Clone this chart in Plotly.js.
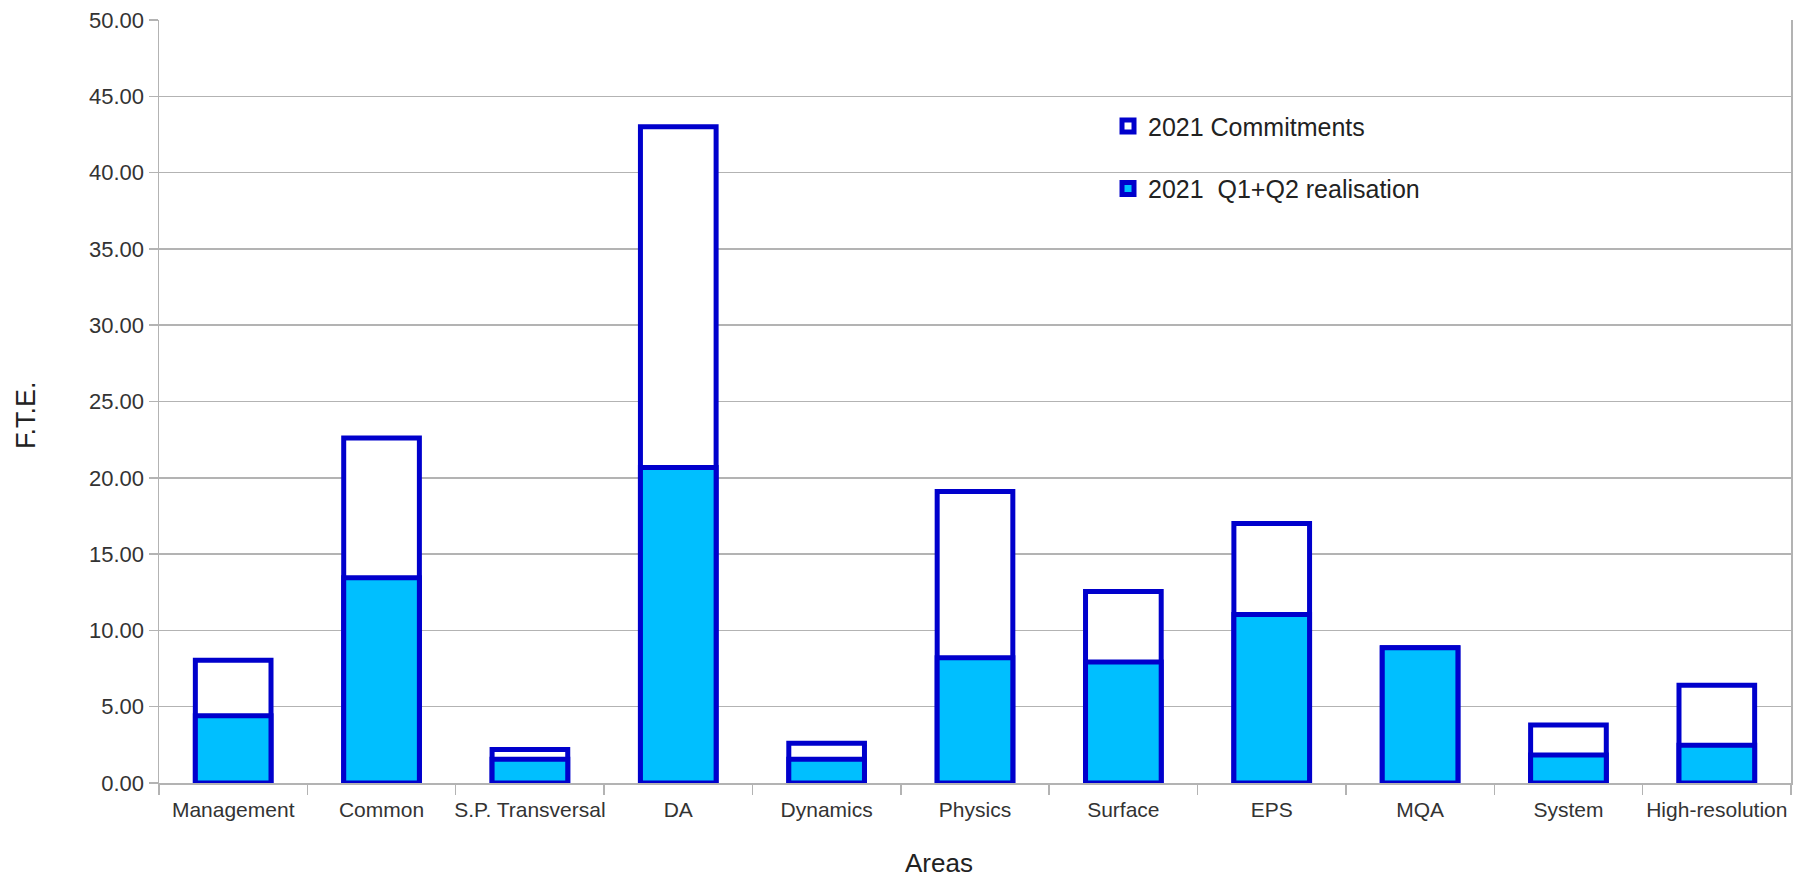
<!DOCTYPE html>
<html>
<head>
<meta charset="utf-8">
<script src="https://cdn.plot.ly/plotly-3.0.1.min.js"></script>
<style>
html,body{margin:0;padding:0;background:#fff;}
#chart{width:1801px;height:881px;}
</style>
</head>
<body>
<div id="chart"></div>
<script>
var categories = ["Management", "Common", "S.P. Transversal", "DA", "Dynamics", "Physics", "Surface", "EPS", "MQA", "System", "High-resolution"];
var commitments = [8.05, 22.6, 2.2, 43.0, 2.6, 19.1, 12.55, 17.0, 8.87, 3.8, 6.4];
var realisation = [4.4, 13.45, 1.55, 20.67, 1.55, 8.2, 7.93, 11.05, 8.87, 1.84, 2.47];
var seriesNames = ["2021 Commitments", "2021  Q1+Q2 realisation"];
var yTicks = [0, 5, 10, 15, 20, 25, 30, 35, 40, 45, 50];

var FONT = "Liberation Sans, Arial, sans-serif";
var LINE = "#0000cc";

var traces = [
  {
    type: "bar",
    name: seriesNames[0],
    x: categories,
    y: commitments,
    legendgroup: "a",
    marker: {color: "#ffffff", line: {color: LINE, width: 5}},
    hoverinfo: "x+y+name"
  },
  {
    type: "bar",
    name: seriesNames[1],
    x: categories,
    y: realisation,
    legendgroup: "b",
    marker: {color: "#00bfff", line: {color: LINE, width: 5}},
    hoverinfo: "x+y+name"
  }
];

var layout = {
  width: 1801,
  height: 881,
  margin: {l: 159, r: 10, t: 20, b: 98},
  paper_bgcolor: "#ffffff",
  plot_bgcolor: "#ffffff",
  barmode: "overlay",
  bargap: 0.49,
  font: {family: FONT, color: "#333333", size: 22},
  showlegend: true,
  legend: {
    x: 0.5815, xanchor: "left",
    y: 0.891, yanchor: "top",
    bgcolor: "rgba(0,0,0,0)",
    font: {family: FONT, size: 25, color: "#222222"},
    traceorder: "grouped",
    tracegroupgap: 27,
    itemwidth: 30
  },
  xaxis: {
    type: "category",
    tickson: "boundaries",
    tickangle: 0,
    ticks: "outside",
    ticklen: 10,
    tickwidth: 1.5,
    tickcolor: "#b3b3b3",
    ticklabelstandoff: 7,
    showline: true,
    linecolor: "#b3b3b3",
    linewidth: 1.5,
    showgrid: false,
    zeroline: false,
    tickfont: {family: FONT, size: 21, color: "#333333"},
    fixedrange: true
  },
  yaxis: {
    range: [0, 50],
    tickvals: yTicks,
    tickformat: ".2f",
    ticks: "outside",
    ticklen: 9,
    tickwidth: 1.5,
    tickcolor: "#b3b3b3",
    showline: true,
    mirror: true,
    linecolor: "#b3b3b3",
    linewidth: 1.5,
    showgrid: true,
    gridcolor: "#b3b3b3",
    gridwidth: 1.5,
    zeroline: false,
    tickfont: {family: FONT, size: 22, color: "#333333"},
    fixedrange: true
  },
  annotations: [
    {
      text: "F.T.E.",
      xref: "paper", yref: "paper",
      x: (26 - 159) / 1632, y: (783 - 415) / 763,
      xanchor: "center", yanchor: "middle",
      textangle: -90,
      showarrow: false,
      font: {family: FONT, size: 27, color: "#222222"}
    },
    {
      text: "Areas",
      xref: "paper", yref: "paper",
      x: (939 - 159) / 1632, y: -(863 - 783) / 763,
      xanchor: "center", yanchor: "middle",
      showarrow: false,
      font: {family: FONT, size: 26, color: "#222222"}
    }
  ]
};

Plotly.newPlot("chart", traces, layout, {displayModeBar: false, staticPlot: true});
</script>
</body>
</html>
